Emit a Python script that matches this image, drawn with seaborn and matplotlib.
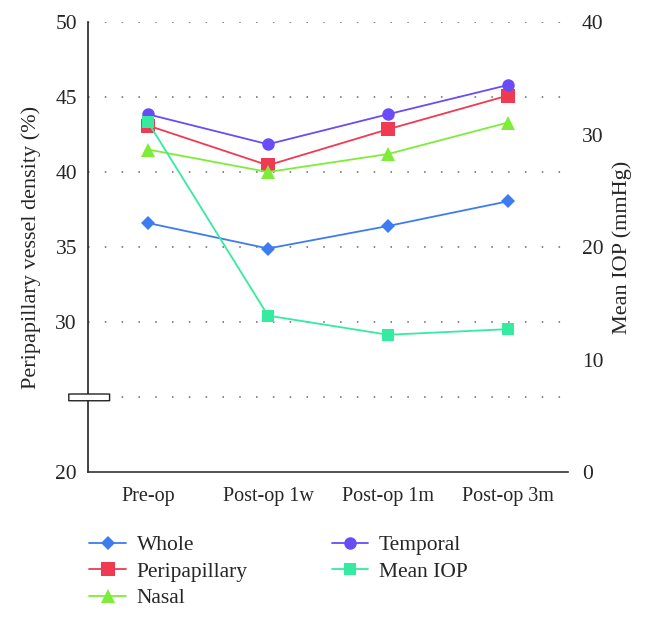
import numpy as np
import pandas as pd
import matplotlib
matplotlib.use("Agg")
import matplotlib.pyplot as plt
import matplotlib.patches as mpatches
import matplotlib.transforms as mtransforms
import seaborn as sns

# values
stages = ["Pre-op", "Post-op 1w", "Post-op 1m", "Post-op 3m"]
whole = [36.6, 34.9, 36.4, 38.05]
peripapillary = [43.1, 40.45, 42.85, 45.1]
nasal = [41.5, 40.0, 41.2, 43.3]
temporal = [43.85, 41.85, 43.85, 45.8]
mean_iop = [31.1, 13.9, 12.2, 12.7]

left_ticks = [20, 30, 35, 40, 45, 50]
right_ticks = [0, 10, 20, 30, 40]

sns.set_style("white")
plt.rcParams["font.family"] = ["Liberation Serif", "DejaVu Serif"]

fig = plt.figure(figsize=(6.47, 6.2), dpi=100)
ax = fig.add_axes([0.136, 0.2387, 0.742, 0.7258])
ax2 = ax.twinx()

pos = np.arange(len(stages))
df = pd.DataFrame({"pos": pos, "Whole": whole, "Peripapillary": peripapillary,
                   "Nasal": nasal, "Temporal": temporal, "Mean IOP": mean_iop})

styles = [
    ("Whole", "#3d7cf0", "D", 7),
    ("Peripapillary", "#f03a52", "s", 10),
    ("Nasal", "#7eed3a", "^", 10),
    ("Temporal", "#6a4cf6", "o", 9),
]
handles = []
for name, col, mk, ms in styles:
    sns.lineplot(data=df, x="pos", y=name, ax=ax, color=col, marker=mk,
                 markersize=ms, markeredgewidth=0, linewidth=1.3, zorder=3)
    handles.append(ax.lines[-1])

sns.lineplot(data=df, x="pos", y="Mean IOP", ax=ax2, color="#35eba0", marker="s",
             markersize=8, markeredgewidth=0, linewidth=1.3, zorder=3)
handles = [handles[0], handles[1], handles[2], handles[3], ax2.lines[-1]]
labels = ["Whole", "Peripapillary", "Nasal", "Temporal", "Mean IOP"]

ax.set_xlim(-0.5, 3.5)
ax.set_ylim(20, 50)
ax2.set_ylim(0, 40)
ax.set_xticks(pos)
ax.set_xticklabels(stages, fontsize=14.5)
ax.set_yticks(left_ticks)
ax.set_yticklabels([str(t) for t in left_ticks], fontsize=15.5)
ax2.set_yticks(right_ticks)
ax2.set_yticklabels([str(t) for t in right_ticks], fontsize=15.5)
ax.set_xlabel("")
ax.set_ylabel("Peripapillary vessel density (%)", fontsize=16, labelpad=10)
ax2.set_ylabel("Mean IOP (mmHg)", fontsize=16, labelpad=6)
ax.tick_params(axis="x", length=0, pad=11)
ax.tick_params(axis="y", length=0, pad=8)
ax2.tick_params(axis="y", length=0, pad=10)

for g in [25, 30, 35, 40, 45, 50]:
    ax.axhline(g, color="#666666", linestyle=(0, (1, 10)), linewidth=1.1, zorder=1)

for a in (ax, ax2):
    a.spines["top"].set_visible(False)
    a.spines["right"].set_visible(False)
ax2.spines["left"].set_visible(False)
ax2.spines["bottom"].set_visible(False)
ax.spines["left"].set_color("#222222")
ax.spines["left"].set_linewidth(1.2)
ax.spines["bottom"].set_color("#333333")
ax.spines["bottom"].set_linewidth(1.2)

# axis break symbol on the left axis
trans = mtransforms.blended_transform_factory(ax.transAxes, ax.transData)
brk = mpatches.FancyBboxPatch((-0.04, 24.75), 0.085, 0.45, boxstyle="round,pad=0,rounding_size=0.01",
                              transform=trans, facecolor="white", edgecolor="#222222",
                              linewidth=1.0, clip_on=False, zorder=5)
ax.add_patch(brk)

fig.legend(handles, labels, ncol=2, loc="upper left", bbox_to_anchor=(0.108, 0.168),
           frameon=False, fontsize=15.5, handlelength=1.7, columnspacing=3.9,
           labelspacing=0.3, handletextpad=0.5)

fig.savefig("out.png", dpi=100)
